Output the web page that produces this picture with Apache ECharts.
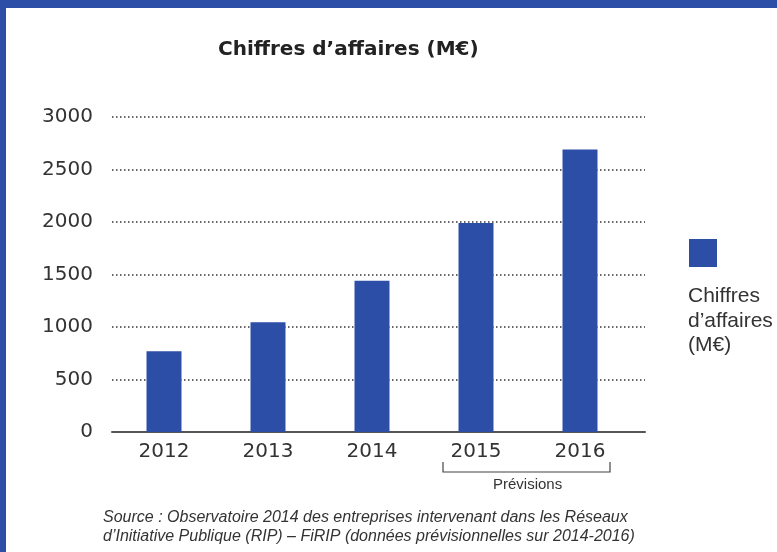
<!DOCTYPE html>
<html>
<head>
<meta charset="utf-8">
<script src="https://cdn.jsdelivr.net/npm/echarts@6/dist/echarts.min.js"></script>
<style>
  html, body { margin: 0; padding: 0; background: #fff; }
  #main { width: 777px; height: 552px; }
</style>
</head>
<body>
<div id="main"></div>
<script>
var years = ["2012", "2013", "2014", "2015", "2016"];
var chiffres = [770, 1045, 1440, 1990, 2690]; // M€
var yTicks = [0, 3000, 500]; // min, max, interval
var legendLines = ["Chiffres", "d’affaires", "(M€)"];
var sourceLines = [
  "Source : Observatoire 2014 des entreprises intervenant dans les Réseaux",
  "d’Initiative Publique (RIP) – FiRIP (données prévisionnelles sur 2014-2016)"
];

var blue = "#2C4EA7";
var txt = "#333";
var font = "Liberation Sans";
var numFont = "DejaVu Sans";

var myChart = echarts.init(document.getElementById("main"));
var option = {
  backgroundColor: "#fff",
  animation: false,
  title: {
    text: "Chiffres d’affaires (M€)",
    left: 213,
    top: 35,
    textStyle: { fontFamily: "DejaVu Sans", fontSize: 20, fontWeight: "bold", color: "#222" }
  },
  legend: {
    data: ["Chiffres d’affaires (M€)"],
    left: 689,
    top: 239,
    padding: 0,
    icon: "rect",
    itemWidth: 28,
    itemHeight: 28,
    formatter: function () { return ""; },
    selectedMode: false
  },
  grid: [
    // gridlines + axis line
    { left: 112, right: 132, top: 117, bottom: 120 },
    // bars
    { left: 112, right: 145, top: 117, bottom: 120 }
  ],
  xAxis: [
    {
      gridIndex: 0, type: "value", min: 0, max: 1,
      axisLine: { show: true, onZero: false, lineStyle: { color: "#555", width: 2 } },
      axisTick: { show: false }, axisLabel: { show: false }, splitLine: { show: false }
    },
    {
      gridIndex: 1, type: "category", data: years,
      axisLine: { show: false }, axisTick: { show: false },
      axisLabel: { margin: 10, fontFamily: numFont, fontSize: 20, color: txt }
    }
  ],
  yAxis: [
    {
      gridIndex: 0, type: "value", min: yTicks[0], max: yTicks[1], interval: yTicks[2],
      axisLine: { show: false }, axisTick: { show: false },
      axisLabel: {
        margin: 19, fontFamily: numFont, fontSize: 20, color: txt,
        formatter: function (v) { return String(v); }
      },
      splitLine: { lineStyle: { type: [1.5, 2.5], color: "#333", width: 1.5 } }
    },
    {
      gridIndex: 1, type: "value", min: yTicks[0], max: yTicks[1], show: false
    }
  ],
  series: [{
    name: "Chiffres d’affaires (M€)",
    type: "bar",
    xAxisIndex: 1,
    yAxisIndex: 1,
    barWidth: 35,
    data: chiffres,
    itemStyle: { color: blue },
    z: 3
  }],
  graphic: [
    { type: "rect", shape: { x: 0, y: 0, width: 777, height: 8 }, style: { fill: blue } },
    { type: "rect", shape: { x: 0, y: 0, width: 6, height: 552 }, style: { fill: blue } },
    {
      type: "polyline",
      shape: { points: [[443, 462], [443, 472], [610, 472], [610, 462]] },
      style: { stroke: "#444", lineWidth: 1.2, fill: null }
    },
    {
      type: "text", left: 493, top: 477,
      style: { text: "Prévisions", font: "15px " + font, fill: txt }
    },
    {
      type: "text", left: 688, top: 284,
      style: { text: legendLines.join("\n"), font: "21px " + font, lineHeight: 24.5, fill: txt }
    },
    {
      type: "text", left: 103, top: 508,
      style: { text: sourceLines.join("\n"), font: "italic 16px " + font, lineHeight: 19, fill: txt }
    }
  ]
};
myChart.setOption(option);
</script>
</body>
</html>
